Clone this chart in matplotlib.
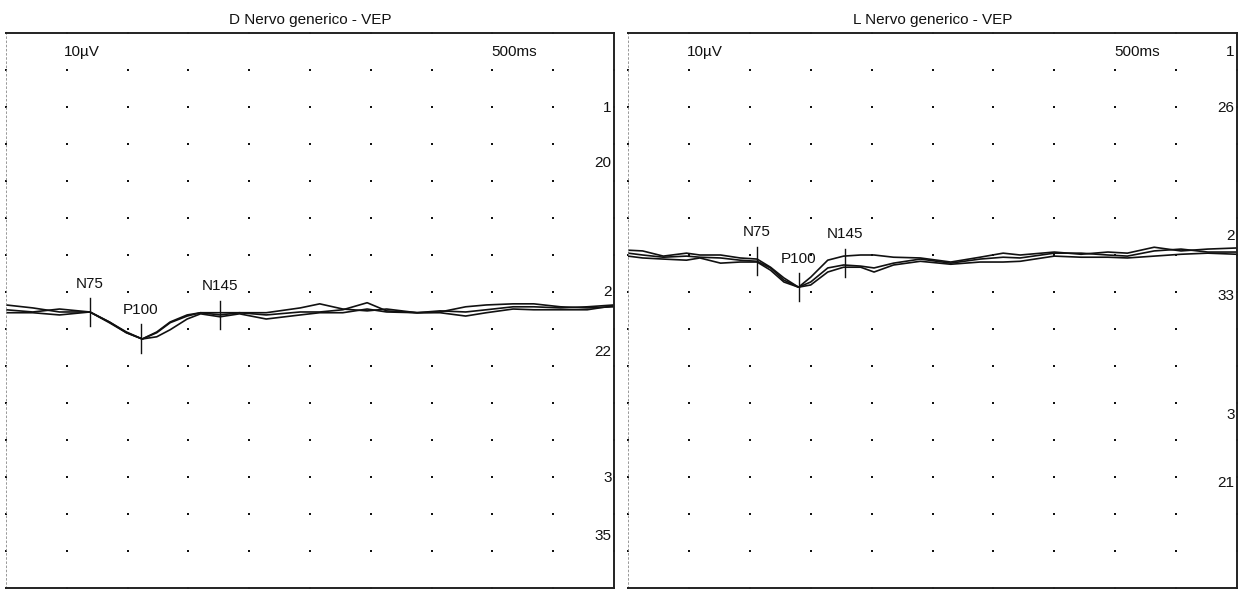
import numpy as np
import matplotlib
matplotlib.use("Agg")
import matplotlib.pyplot as plt

plt.rcParams["font.family"] = ["Liberation Sans", "DejaVu Sans"]

# ---------- data (uV, positive drawn downward) ----------
titles = ["D Nervo generico - VEP", "L Nervo generico - VEP"]

left_t = [0, 22, 44, 69, 85, 99, 112, 124, 135, 149, 160, 176, 192, 214,
          242, 258, 277, 297, 313, 338, 357, 378, 395, 417, 434, 456, 478, 500]
left_a = [-1.6, -0.8, 0.3, 0.3, 3.0, 5.7, 7.6, 5.7, 3.0, 1.1, 0.5, 0.5, 0.5, 0.5,
          -0.8, -1.9, -0.5, -0.0, -0.5, 0.5, 0.0, 0.3, -0.3, -1.1, -1.1, -0.8, -1.1, -1.6]
left_b = [-0.3, 0.3, -0.5, 0.3, 3.2, 5.9, 7.6, 5.9, 3.2, 1.4, 0.5, 1.1, 0.5, 1.1,
          0.3, 0.3, -0.3, -2.2, 0.0, 0.5, 0.3, -1.1, -1.6, -1.9, -1.9, -1.1, -0.8, -1.1]
left_c = [0.5, 0.5, 1.1, 0.3, 3.0, 5.9, 7.6, 7.0, 5.1, 2.2, 0.8, 1.6, 0.8, 2.2,
          1.1, 0.5, 0.5, -0.5, 0.3, 0.5, 0.5, 1.4, 0.5, -0.5, -0.3, -0.3, -0.3, -1.4]

right_t = [0, 12, 29, 48, 59, 76, 92, 106, 117, 128, 140, 150, 164, 177, 191,
           202, 218, 240, 265, 289, 308, 322, 350, 372, 394, 410, 432, 454, 476, 500]
right_a = [-1.6, -1.4, 0.0, -0.8, -0.3, -0.3, 0.5, 0.8, 3.0, 5.9, 8.4, 5.7, 1.1, 0.0, -0.3,
           -0.3, 0.3, 0.5, 1.6, 0.3, -0.8, -0.3, -1.1, -0.5, -1.1, -0.8, -2.4, -1.4, -1.9, -2.2]
right_b = [-0.8, -0.3, 0.3, 0.0, 0.3, 0.5, 1.1, 1.4, 3.2, 6.5, 8.4, 7.0, 3.2, 2.4, 2.7,
           3.2, 1.9, 0.8, 1.9, 0.8, 0.3, 0.5, -0.8, -0.8, -0.3, 0.0, -1.4, -1.9, -1.1, -1.1]
right_c = [0.0, 0.5, 0.8, 1.1, 0.5, 1.9, 1.6, 1.6, 3.8, 7.0, 8.4, 7.8, 4.3, 3.0, 3.0,
           4.3, 2.4, 1.4, 2.2, 1.6, 1.6, 1.4, 0.0, 0.3, 0.3, 0.5, 0.0, -0.5, -0.8, -0.5]

peak_names = ["N75", "P100", "N145"]
left_peaks = [69, 111, 176]
right_peaks = [106, 140, 178]

left_side_labels = ["1", "20", "2", "22", "3", "35"]
right_side_labels = ["1", "26", "2", "33", "3", "21"]

# ---------- layout ----------
W, H = 1239, 590
fig = plt.figure(figsize=(W / 100, H / 100), dpi=100)

panels = [
    dict(x0=6, x1=614, base=75.1, t=left_t, traces=[left_a, left_b, left_c],
         peaks=left_peaks, side=left_side_labels,
         side_y=[20.3, 35.1, 70.0, 86.2, 120.3, 135.9], title=titles[0]),
    dict(x0=628, x1=1237, base=60.3, t=right_t, traces=[right_a, right_b, right_c],
         peaks=right_peaks, side=right_side_labels,
         side_y=[5.1, 20.3, 54.9, 71.1, 103.2, 121.6], title=titles[1]),
]

top_px, bot_px = 33, 588

for p in panels:
    ax = fig.add_axes([p["x0"] / W, (H - bot_px) / H,
                       (p["x1"] - p["x0"]) / W, (bot_px - top_px) / H])
    ax.set_xlim(0, 500)
    ax.set_ylim(150, 0)
    ax.set_xticks([])
    ax.set_yticks([])
    for s in ["top", "bottom", "right"]:
        ax.spines[s].set_linewidth(1.4)
        ax.spines[s].set_color("#222222")
    ax.spines["left"].set_linestyle((0, (2, 3)))
    ax.spines["left"].set_linewidth(0.6)
    ax.spines["left"].set_color("#888888")

    # dotted grid: 50 ms x 10 uV
    gx, gy = np.meshgrid(np.arange(0, 501, 50), np.arange(0, 151, 10))
    ax.plot(gx.ravel(), gy.ravel(), "s", ms=2.1, color="#111111",
            mew=0, clip_on=False)

    t = np.array(p["t"])
    for tr in p["traces"]:
        ax.plot(t, p["base"] + np.array(tr), color="#111111", lw=1.2)

    # peak markers
    for name, lat in zip(peak_names, p["peaks"]):
        yv = p["base"] + np.mean([np.interp(lat, t, tr) for tr in p["traces"]])
        ax.plot([lat, lat], [yv - 3.8, yv + 3.8], color="#111111", lw=1.0)
        ax.text(lat, yv - 5.8, name, ha="center", va="bottom",
                fontsize=11, color="#111111")

    ax.text(48, 5.1, "10\u00b5V", ha="left", va="center", fontsize=11, color="#111111")
    ax.text(399, 5.1, "500ms", ha="left", va="center", fontsize=11, color="#111111")

    for lab, yl in zip(p["side"], p["side_y"]):
        ax.text(498, yl, lab, ha="right", va="center", fontsize=11, color="#111111")

    ax.text(0.5, 1 + 13 / (bot_px - top_px), p["title"], transform=ax.transAxes,
            ha="center", va="center", fontsize=11, color="#111111")

fig.savefig("out.png", dpi=100, facecolor="white")
